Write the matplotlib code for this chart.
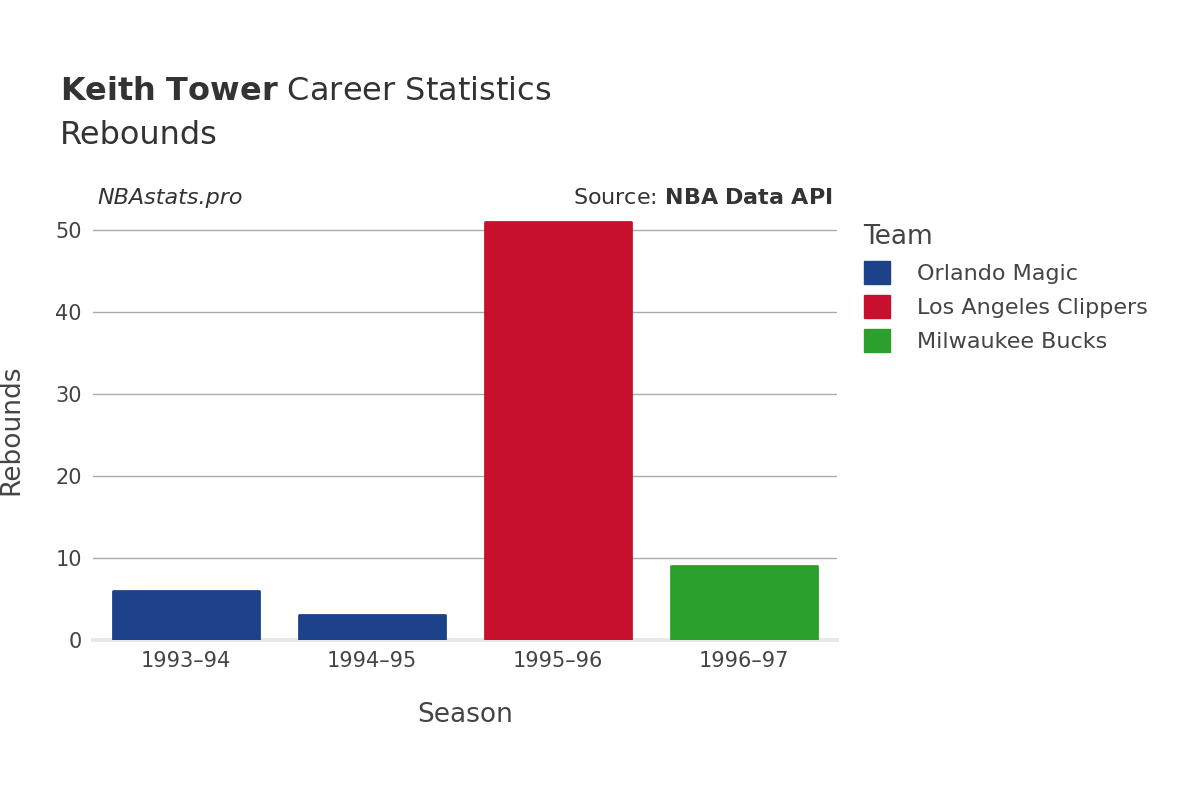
import matplotlib.pyplot as plt
from matplotlib.patches import Patch

seasons = ["1993–94", "1994–95", "1995–96", "1996–97"]
rebounds = [6, 3, 51, 9]
teams = ["Orlando Magic", "Orlando Magic", "Los Angeles Clippers", "Milwaukee Bucks"]
team_colors = {"Orlando Magic": "#1d428a", "Los Angeles Clippers": "#c8102e", "Milwaukee Bucks": "#2ca02c"}

fig = plt.figure(figsize=(12, 8), dpi=100)
ax = fig.add_axes([0.0775, 0.2, 0.62, 0.525])
x = range(len(seasons))
cols = [team_colors[t] for t in teams]
ax.bar(x, rebounds, width=0.78, color=cols, edgecolor=cols, linewidth=2, joinstyle="round", zorder=3)
ax.set_xlim(-0.5, 3.5)
ax.set_ylim(0, 51.2)
ax.set_yticks([0, 10, 20, 30, 40, 50])
ax.set_xticks(list(x))
ax.set_xticklabels(seasons)
ax.grid(axis="y", color="#aaaaaa", linewidth=1, zorder=0)
for s in ["top", "right", "left"]:
    ax.spines[s].set_visible(False)
ax.spines["bottom"].set_color("#e8e8e8")
ax.spines["bottom"].set_linewidth(3)
ax.tick_params(length=0, labelsize=15, labelcolor="#444444", pad=8)
ax.set_xlabel("Season", fontsize=19, color="#444444", labelpad=22)
ax.set_ylabel("Rebounds", fontsize=19, color="#444444", labelpad=22)

fig.text(0.05, 0.875, r"$\bf{Keith\ Tower}$ Career Statistics", fontsize=23, color="#333333")
fig.text(0.05, 0.82, "Rebounds", fontsize=23, color="#333333")
fig.text(0.081, 0.752, "NBAstats.pro", fontsize=16, style="italic", color="#333333", va="center")
fig.text(0.694, 0.752, r"Source: $\bf{NBA\ Data\ API}$", fontsize=16, color="#333333", ha="right", va="center")

handles = [Patch(color=c, label=t) for t, c in team_colors.items()]
leg = fig.legend(handles=handles, loc="upper left", bbox_to_anchor=(0.703, 0.745), frameon=False,
                 title="Team", fontsize=16, title_fontsize=19, labelcolor="#444444",
                 handlelength=1.2, handleheight=1.2, handletextpad=1.2, alignment="left")
leg.get_title().set_color("#444444")

fig.savefig("out.png")
